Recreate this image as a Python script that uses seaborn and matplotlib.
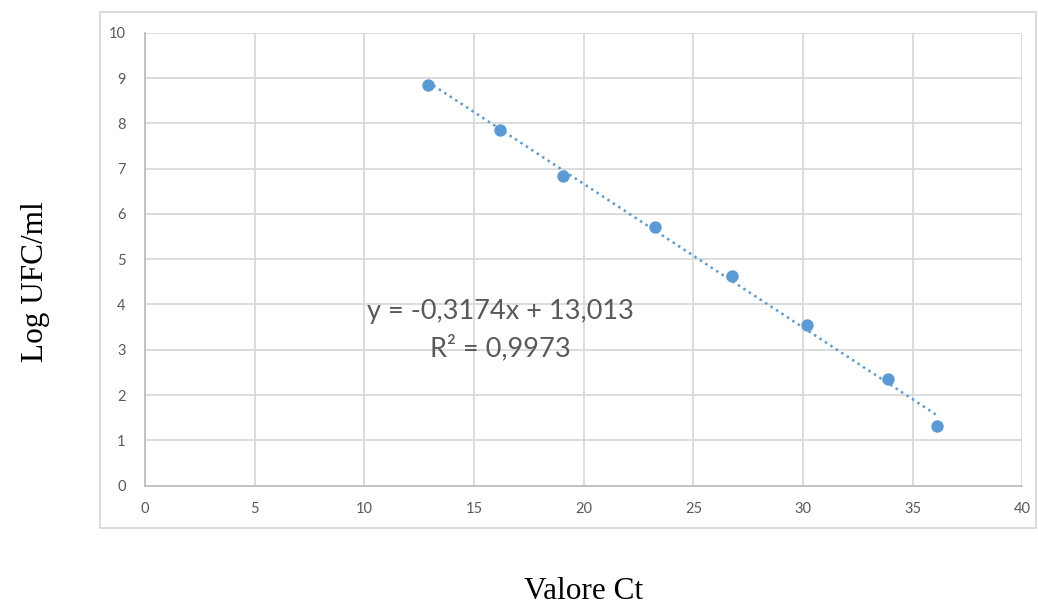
import numpy as np
import matplotlib
matplotlib.use("Agg")
import matplotlib.pyplot as plt
import seaborn as sns
import pandas as pd

# dati
ct_values = [12.9, 16.2, 19.05, 23.25, 26.75, 30.2, 33.85, 36.1]
log_ufc = [8.85, 7.86, 6.85, 5.72, 4.62, 3.54, 2.35, 1.31]
slope = -0.3174
intercept = 13.013
r2 = 0.9973

x_ticks = [0, 5, 10, 15, 20, 25, 30, 35, 40]
y_ticks = [0, 1, 2, 3, 4, 5, 6, 7, 8, 9, 10]

BLUE = "#5B9BD5"
GRID = "#D9D9D9"
TICK = "#595959"

sns.set_style("white")
plt.rcParams['font.family'] = ['Lato', 'DejaVu Sans']

df = pd.DataFrame({"ct": ct_values, "log": log_ufc})

fig = plt.figure(figsize=(10.38, 6.05), dpi=100)
# riquadro esterno stile Excel
box = plt.Rectangle((0.0963, 0.1273), 0.9017, 0.853, transform=fig.transFigure,
                    fill=False, edgecolor="#D9D9D9", linewidth=1.3)
fig.patches.append(box)

ax = fig.add_axes([0.1397, 0.1975, 0.8453, 0.748])

# linea di tendenza
xl = np.array([min(ct_values), max(ct_values)])
ax.plot(xl, slope * xl + intercept, linestyle=(0, (1, 1.6)), color=BLUE, linewidth=1.8, zorder=2)

sns.scatterplot(data=df, x="ct", y="log", ax=ax, color=BLUE, s=80, edgecolor=BLUE,
                linewidth=0, zorder=3)

ax.set_xlim(0, 40)
ax.set_ylim(0, 10)
ax.set_xticks(x_ticks)
ax.set_yticks(y_ticks)
ax.grid(True, color=GRID, linewidth=1.3)
ax.set_axisbelow(True)
ax.tick_params(axis="both", length=0, labelsize=10.5, labelcolor=TICK)
ax.tick_params(axis="x", pad=12)
ax.tick_params(axis="y", pad=14)
for s in ["top", "right"]:
    ax.spines[s].set_visible(False)
for s in ["left", "bottom"]:
    ax.spines[s].set_color("#BFBFBF")
    ax.spines[s].set_linewidth(1.3)
ax.set_xlabel("")
ax.set_ylabel("")

ax.text(16.2, 3.43, f"y = {slope:.4f}x + {intercept:.3f}\nR² = {r2:.4f}".replace(".", ","),
        ha="center", va="center", fontsize=19.5, color=TICK, linespacing=1.5)

fig.text(0.5626, 0.0215, "Valore Ct", family="Liberation Serif", fontsize=22.5,
         ha="center", va="center", color="black")
fig.text(0.034, 0.535, "Log UFC/ml", family="Liberation Serif", fontsize=22.5,
         ha="center", va="center", rotation=90, color="black")

fig.savefig("out.png", dpi=100)
